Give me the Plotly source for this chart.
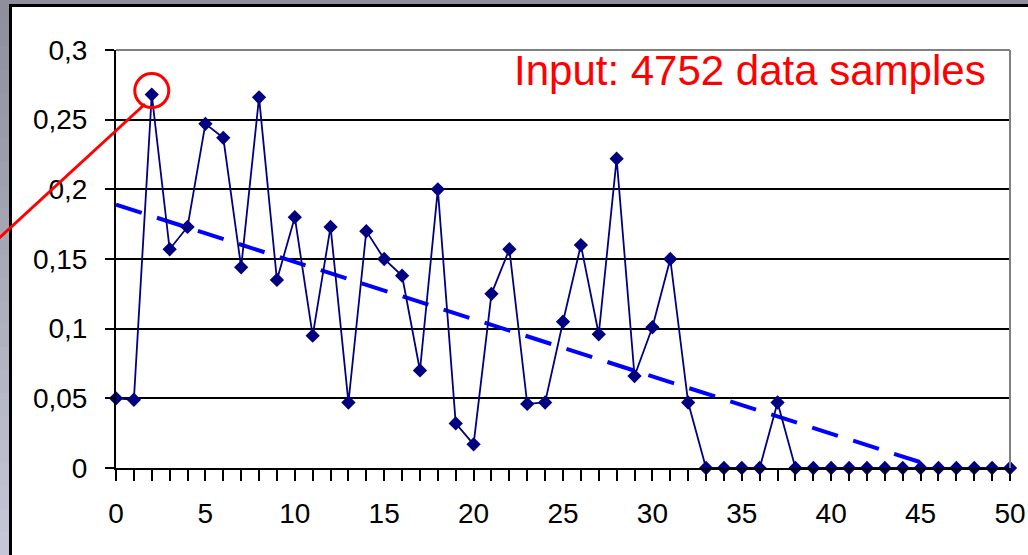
import plotly.graph_objects as go

# ---- data ----
x_vals = list(range(51))
y_vals = [0.050, 0.049, 0.268, 0.157, 0.173, 0.247, 0.237, 0.144, 0.266, 0.135,
          0.180, 0.095, 0.173, 0.047, 0.170, 0.150, 0.138, 0.070, 0.200, 0.032,
          0.017, 0.125, 0.157, 0.046, 0.047, 0.105, 0.160, 0.096, 0.222, 0.066,
          0.101, 0.150, 0.047, 0.0, 0.0, 0.0, 0.0, 0.047, 0.0, 0.0,
          0.0, 0.0, 0.0, 0.0, 0.0, 0.0, 0.0, 0.0, 0.0, 0.0, 0.0]
trend_x = [0, 46]
trend_y = [0.189, 0.0]
y_tickvals = [0, 0.05, 0.1, 0.15, 0.2, 0.25, 0.3]
y_ticktext = ["0", "0,05", "0,1", "0,15", "0,2", "0,25", "0,3"]
x_tickvals = [0, 5, 10, 15, 20, 25, 30, 35, 40, 45, 50]
x_ticktext = ["0", "5", "10", "15", "20", "25", "30", "35", "40", "45", "50"]
annotation_text = "Input: 4752 data samples"
highlight_index = 2

# ---- layout geometry (pixels) ----
W, H = 1028, 555
L, R, T, B = 116, 1010, 50, 468
PW, PH = R - L, B - T


def px(xp):
    return (xp - L) / PW


def py(yp):
    return (B - yp) / PH


FONT = "Liberation Sans, Arial, sans-serif"

fig = go.Figure()

fig.add_trace(go.Scatter(
    x=trend_x, y=trend_y, mode="lines",
    line=dict(color="#0000FF", width=4, dash="27px,16px"),
    hoverinfo="skip", showlegend=False, cliponaxis=True,
))

fig.add_trace(go.Scatter(
    x=x_vals, y=y_vals, mode="lines+markers",
    line=dict(color="#000080", width=1.8),
    marker=dict(symbol="diamond", size=11, color="#000080"),
    showlegend=False, cliponaxis=False,
))

shapes = []
# gray gradient strip on the left
top_rgb = (0x8e, 0x8f, 0x9a)
bot_rgb = (0xc6, 0xc6, 0xd8)
n = 24
for i in range(n):
    t = i / (n - 1)
    c = tuple(int(round(a + (b - a) * t)) for a, b in zip(top_rgb, bot_rgb))
    y0 = i * H / n
    y1 = (i + 1) * H / n + 1
    shapes.append(dict(type="rect", xref="paper", yref="paper",
                       x0=px(-2), x1=px(11), y0=py(y1), y1=py(y0),
                       fillcolor="rgb(%d,%d,%d)" % c, line=dict(width=0),
                       layer="below"))
# white panel with black border on left/top
shapes.append(dict(type="rect", xref="paper", yref="paper",
                   x0=px(10.5), x1=px(W + 20), y0=py(H + 20), y1=py(5.5),
                   fillcolor="white", line=dict(color="black", width=3),
                   layer="below"))
# gray top/right plot border
shapes.append(dict(type="line", xref="paper", yref="paper", x0=0, x1=1, y0=1, y1=1,
                   line=dict(color="#808080", width=2), layer="above"))
shapes.append(dict(type="line", xref="paper", yref="paper", x0=1, x1=1, y0=0, y1=1,
                   line=dict(color="#808080", width=2), layer="above"))
# red circle around highlighted point
shapes.append(dict(type="circle", xref="x", yref="y",
                   xsizemode="pixel", ysizemode="pixel",
                   xanchor=x_vals[highlight_index], yanchor=y_vals[highlight_index],
                   x0=-17, x1=17, y0=-13, y1=21,
                   line=dict(color="#FF0000", width=3), layer="above"))
# red pointer line
shapes.append(dict(type="line", xref="paper", yref="paper",
                   x0=px(-2), y0=py(239), x1=px(145), y1=py(104),
                   line=dict(color="#FF0000", width=3), layer="above"))

fig.update_layout(
    width=W, height=H, autosize=False,
    margin=dict(l=L, r=W - R, t=T, b=H - B, pad=0),
    paper_bgcolor="#8e8f9a",
    plot_bgcolor="white",
    separators=", ",
    font=dict(family=FONT, size=28, color="black"),
    shapes=shapes,
    annotations=[dict(text=annotation_text, xref="paper", yref="paper",
                      x=px(988), y=py(70), xanchor="right", yanchor="middle",
                      showarrow=False,
                      font=dict(family=FONT, size=42, color="#FF0000"))],
    xaxis=dict(range=[0, 50], tickvals=x_tickvals, ticktext=x_ticktext,
               ticks="outside", ticklen=11, tickwidth=2, tickcolor="black",
               minor=dict(dtick=1, ticks="outside", ticklen=11, tickwidth=2,
                          tickcolor="black", showgrid=False),
               showline=True, linecolor="black", linewidth=2,
               showgrid=False, zeroline=False, ticklabelstandoff=8,
               automargin=False,
               tickfont=dict(size=28, family=FONT)),
    yaxis=dict(range=[0, 0.3], tickvals=y_tickvals, ticktext=y_ticktext,
               ticks="outside", ticklen=9, tickwidth=2, tickcolor="black",
               showline=True, linecolor="black", linewidth=2,
               showgrid=True, gridcolor="black", gridwidth=2,
               zeroline=False, ticklabelstandoff=12, automargin=False,
               tickfont=dict(size=28, family=FONT)),
)

fig.write_html("out.html",
               config={"displayModeBar": False, "responsive": False},
               post_script="document.body.style.margin='0';"
                           "document.body.style.overflow='hidden';")
